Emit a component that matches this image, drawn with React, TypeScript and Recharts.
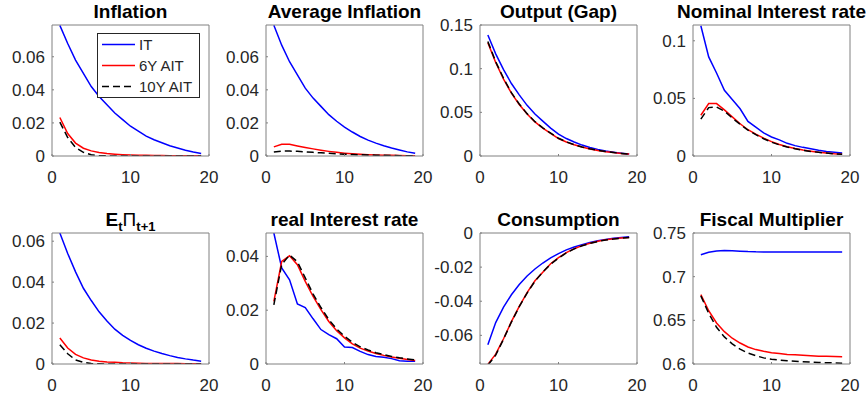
import { LineChart, Line, XAxis, YAxis, Legend } from 'recharts';

// horizon (quarters)
const T = [1, 2, 3, 4, 5, 6, 7, 8, 9, 10, 11, 12, 13, 14, 15, 16, 17, 18, 19];
const X_TICKS = [0, 10, 20];

// Inflation
const inflIT = [0.079, 0.068, 0.058, 0.05, 0.042, 0.036, 0.031, 0.026, 0.022, 0.018, 0.015, 0.012, 0.0098, 0.008, 0.0062, 0.0048, 0.0035, 0.0024, 0.0015];
const inflAIT6 = [0.0233, 0.0136, 0.0078, 0.0047, 0.0031, 0.0021, 0.0015, 0.0011, 0.0008, 0.0006, 0.0005, 0.0004, 0.0003, 0.0003, 0.0002, 0.0002, 0.0002, 0.0001, 0.0001];
const inflAIT10 = [0.0205, 0.0112, 0.0052, 0.0022, 0.0008, 0.0002, 0.0001, 0, 0, 0, 0, 0, 0, 0, 0, 0, 0, 0, 0];

// Average inflation
const avgIT = [0.079, 0.067, 0.057, 0.049, 0.041, 0.035, 0.03, 0.025, 0.021, 0.0175, 0.0145, 0.0118, 0.0096, 0.0078, 0.0062, 0.0048, 0.0036, 0.0025, 0.0016];
const avgAIT6 = [0.0055, 0.0071, 0.0071, 0.0061, 0.0052, 0.0043, 0.0035, 0.0028, 0.0022, 0.0017, 0.0013, 0.001, 0.0008, 0.0006, 0.0005, 0.0004, 0.0003, 0.0002, 0.0002];
const avgAIT10 = [0.0024, 0.003, 0.003, 0.0028, 0.0025, 0.0022, 0.0019, 0.0016, 0.0013, 0.0011, 0.0009, 0.0007, 0.0006, 0.0005, 0.0004, 0.0003, 0.0002, 0.0002, 0.0001];

// Output gap
const gapIT = [0.1385, 0.117, 0.099, 0.083, 0.07, 0.058, 0.048, 0.04, 0.032, 0.025, 0.02, 0.016, 0.0125, 0.0098, 0.0075, 0.0058, 0.0044, 0.0032, 0.0022];
const gapAIT6 = [0.1297, 0.107, 0.088, 0.072, 0.059, 0.048, 0.039, 0.032, 0.026, 0.02, 0.016, 0.0128, 0.0102, 0.0081, 0.0064, 0.005, 0.0039, 0.003, 0.0022];
const gapAIT10 = [0.131, 0.108, 0.089, 0.0725, 0.0595, 0.0485, 0.0393, 0.0322, 0.0262, 0.0203, 0.0162, 0.0129, 0.0103, 0.0082, 0.0065, 0.0051, 0.004, 0.003, 0.0022];

// Nominal interest rate
const nomIT = [0.113, 0.086, 0.072, 0.057, 0.049, 0.041, 0.03, 0.025, 0.02, 0.0165, 0.014, 0.011, 0.009, 0.0075, 0.0062, 0.005, 0.004, 0.0033, 0.0027];
const nomAIT6 = [0.0354, 0.0455, 0.0455, 0.04, 0.034, 0.028, 0.0228, 0.019, 0.0155, 0.0125, 0.01, 0.008, 0.0065, 0.0052, 0.0042, 0.0033, 0.0026, 0.002, 0.0016];
const nomAIT10 = [0.032, 0.042, 0.0425, 0.039, 0.033, 0.0275, 0.0225, 0.0185, 0.015, 0.012, 0.0097, 0.0078, 0.0063, 0.005, 0.004, 0.0032, 0.0025, 0.0019, 0.0015];

// Expected inflation E_t Pi_{t+1}
const expIT = [0.064, 0.054, 0.045, 0.037, 0.031, 0.0255, 0.021, 0.017, 0.014, 0.0115, 0.0094, 0.0077, 0.0063, 0.0051, 0.0041, 0.0032, 0.0025, 0.0019, 0.0014];
const expAIT6 = [0.0127, 0.0078, 0.0047, 0.003, 0.002, 0.0014, 0.001, 0.0008, 0.0006, 0.0005, 0.0004, 0.0003, 0.0003, 0.0002, 0.0002, 0.0002, 0.0001, 0.0001, 0.0001];
const expAIT10 = [0.0094, 0.005, 0.002, 0.0008, 0.0002, 0.0001, 0, 0, 0, 0, 0, 0, 0, 0, 0, 0, 0, 0, 0];

// Real interest rate
const realIT = [0.0487, 0.0357, 0.0313, 0.0223, 0.021, 0.0168, 0.0128, 0.0109, 0.0094, 0.0063, 0.0061, 0.0047, 0.0035, 0.0028, 0.0025, 0.002, 0.0012, 0.001, 0.001];
const realAIT6 = [0.0233, 0.0381, 0.0402, 0.0369, 0.0307, 0.0251, 0.0202, 0.0158, 0.0124, 0.0097, 0.0075, 0.0059, 0.0048, 0.0039, 0.0032, 0.0026, 0.0021, 0.0017, 0.0013];
const realAIT10 = [0.022, 0.037, 0.0405, 0.038, 0.032, 0.026, 0.021, 0.0165, 0.013, 0.0103, 0.0081, 0.0064, 0.0052, 0.0042, 0.0035, 0.0028, 0.0023, 0.0019, 0.0015];

// Consumption
const consIT = [-0.0655, -0.0525, -0.0435, -0.0362, -0.0302, -0.0252, -0.0211, -0.0176, -0.0146, -0.0121, -0.0099, -0.0082, -0.0068, -0.0056, -0.0046, -0.0038, -0.0031, -0.0026, -0.0022];
const consAIT6 = [-0.077, -0.071, -0.062, -0.052, -0.043, -0.035, -0.028, -0.023, -0.018, -0.0145, -0.0115, -0.0092, -0.0074, -0.006, -0.0049, -0.004, -0.0034, -0.0029, -0.0026];
const consAIT10 = [-0.0775, -0.0716, -0.0622, -0.0522, -0.0432, -0.0352, -0.0283, -0.0229, -0.0183, -0.0147, -0.0117, -0.0093, -0.0075, -0.0061, -0.005, -0.0041, -0.0035, -0.003, -0.0027];

// Fiscal multiplier
const fiscIT = [0.7252, 0.728, 0.7295, 0.73, 0.7298, 0.7292, 0.7287, 0.7284, 0.7283, 0.7282, 0.7282, 0.7282, 0.7282, 0.7282, 0.7282, 0.7282, 0.7282, 0.7282, 0.7282];
const fiscAIT6 = [0.6795, 0.661, 0.647, 0.637, 0.6295, 0.624, 0.6195, 0.6165, 0.6145, 0.613, 0.612, 0.611, 0.6105, 0.61, 0.6095, 0.609, 0.6088, 0.6086, 0.6084];
const fiscAIT10 = [0.678, 0.658, 0.642, 0.631, 0.623, 0.617, 0.6125, 0.6095, 0.607, 0.6055, 0.6045, 0.6037, 0.6031, 0.6026, 0.6022, 0.6018, 0.6015, 0.6012, 0.601];

const SERIES = [
  { key: 'it', name: 'IT', color: '#0000ff', dash: undefined as string | undefined },
  { key: 'a6', name: '6Y AIT', color: '#ff0000', dash: undefined as string | undefined },
  { key: 'a10', name: '10Y AIT', color: '#000000', dash: '7 4' },
];

const FONT = '"Liberation Sans", Arial, Helvetica, sans-serif';
const AXIS = '#808080';
const TEXT = '#262626';

// subplot grid
const COL_X = [52, 266, 480, 693];
const ROW_Y = [25, 233];
const BOX_W = 157;
const BOX_H = 131;
const Y_AXIS_W = 50;
const X_AXIS_H = 34;
const PAD_TOP = 12;
const PAD_RIGHT = 12;

function rows(it: number[], a6: number[], a10: number[]) {
  return T.map((t, i) => ({ t, it: it[i], a6: a6[i], a10: a10[i] }));
}

function LegendBox() {
  return (
    <div
      style={{
        width: 103,
        height: 65,
        boxSizing: 'border-box',
        border: `1px solid ${TEXT}`,
        background: '#fff',
      }}
    >
      {SERIES.map((s) => (
        <div key={s.key} style={{ display: 'flex', alignItems: 'center', height: 21 }}>
          <svg width={41} height={21} style={{ display: 'block' }}>
            <line x1={4} x2={37} y1={10.5} y2={10.5} stroke={s.color} strokeWidth={1.5} strokeDasharray={s.dash} />
          </svg>
          <span style={{ font: `15px ${FONT}`, color: TEXT }}>{s.name}</span>
        </div>
      ))}
    </div>
  );
}

interface PanelProps {
  title: React.ReactNode;
  data: ReturnType<typeof rows>;
  domain: [number, number];
  ticks: number[];
  col: number;
  row: number;
  legend?: boolean;
}

function Panel({ title, data, domain, ticks, col, row, legend }: PanelProps) {
  const left = COL_X[col] - Y_AXIS_W;
  const top = ROW_Y[row] - PAD_TOP - 1;
  const tickStyle = { fill: TEXT, fontSize: 17, fontFamily: FONT };
  return (
    <>
      <div
        style={{
          position: 'absolute',
          left: COL_X[col] - 40,
          width: BOX_W + 80,
          top: ROW_Y[row] - 23.3,
          textAlign: 'center',
          font: `bold 19px/19px ${FONT}`,
          color: '#000',
          whiteSpace: 'nowrap',
        }}
      >
        {title}
      </div>
      <div style={{ position: 'absolute', left, top }}>
        <LineChart
          width={Y_AXIS_W + BOX_W + 1 + PAD_RIGHT}
          height={PAD_TOP + 1 + BOX_H + X_AXIS_H}
          data={data}
          margin={{ top: PAD_TOP, right: PAD_RIGHT, bottom: 0, left: 0 }}
        >
          <XAxis
            dataKey="t"
            type="number"
            domain={[0, 20]}
            ticks={X_TICKS}
            interval={0}
            height={X_AXIS_H}
            stroke={AXIS}
            tickSize={-2}
            tickMargin={17}
            tick={tickStyle}
            allowDataOverflow
          />
          <XAxis
            xAxisId="top"
            orientation="top"
            dataKey="t"
            type="number"
            domain={[0, 20]}
            ticks={X_TICKS}
            interval={0}
            height={1}
            stroke={AXIS}
            tickSize={-2}
            tick={false}
            allowDataOverflow
          />
          <YAxis
            type="number"
            domain={domain}
            ticks={ticks}
            interval={0}
            width={Y_AXIS_W}
            stroke={AXIS}
            tickSize={-2}
            tickMargin={9}
            tick={tickStyle}
            tickFormatter={(v: number) => String(v)}
            allowDataOverflow
          />
          <YAxis
            yAxisId="right"
            orientation="right"
            type="number"
            domain={domain}
            ticks={ticks}
            interval={0}
            width={1}
            stroke={AXIS}
            tickSize={-2}
            tick={false}
            allowDataOverflow
          />
          {SERIES.map((s) => (
            <Line
              key={s.key}
              dataKey={s.key}
              name={s.name}
              type="linear"
              stroke={s.color}
              strokeWidth={1.5}
              strokeDasharray={s.dash}
              dot={false}
              activeDot={false}
              isAnimationActive={false}
            />
          ))}
          {legend && (
            <Legend
              layout="horizontal"
              verticalAlign="middle"
              align="center"
              wrapperStyle={{ left: 95, top: PAD_TOP + 9, width: 'auto', height: 'auto' }}
              content={() => <LegendBox />}
            />
          )}
        </LineChart>
      </div>
    </>
  );
}

export default function App() {
  return (
    <div
      style={{
        position: 'absolute',
        left: 0,
        top: 0,
        width: 868,
        height: 398,
        background: '#fff',
        overflow: 'hidden',
      }}
    >
      <Panel title="Inflation" data={rows(inflIT, inflAIT6, inflAIT10)} domain={[0, 0.0792]} ticks={[0, 0.02, 0.04, 0.06]} col={0} row={0} legend />
      <Panel title="Average Inflation" data={rows(avgIT, avgAIT6, avgAIT10)} domain={[0, 0.0792]} ticks={[0, 0.02, 0.04, 0.06]} col={1} row={0} />
      <Panel title="Output (Gap)" data={rows(gapIT, gapAIT6, gapAIT10)} domain={[0, 0.15]} ticks={[0, 0.05, 0.1, 0.15]} col={2} row={0} />
      <Panel title="Nominal Interest rate" data={rows(nomIT, nomAIT6, nomAIT10)} domain={[0, 0.1137]} ticks={[0, 0.05, 0.1]} col={3} row={0} />
      <Panel
        title={
          <span>
            E<sub style={{ fontSize: 13 }}>t</sub>
            <span style={{ fontWeight: 'normal' }}>Π</span>
            <sub style={{ fontSize: 13 }}>t+1</sub>
          </span>
        }
        data={rows(expIT, expAIT6, expAIT10)}
        domain={[0, 0.064]}
        ticks={[0, 0.02, 0.04, 0.06]}
        col={0}
        row={1}
      />
      <Panel title="real Interest rate" data={rows(realIT, realAIT6, realAIT10)} domain={[0, 0.0487]} ticks={[0, 0.02, 0.04]} col={1} row={1} />
      <Panel title="Consumption" data={rows(consIT, consAIT6, consAIT10)} domain={[-0.0768, 0]} ticks={[-0.06, -0.04, -0.02, 0]} col={2} row={1} />
      <Panel title="Fiscal Multiplier" data={rows(fiscIT, fiscAIT6, fiscAIT10)} domain={[0.6, 0.75]} ticks={[0.6, 0.65, 0.7, 0.75]} col={3} row={1} />
    </div>
  );
}
